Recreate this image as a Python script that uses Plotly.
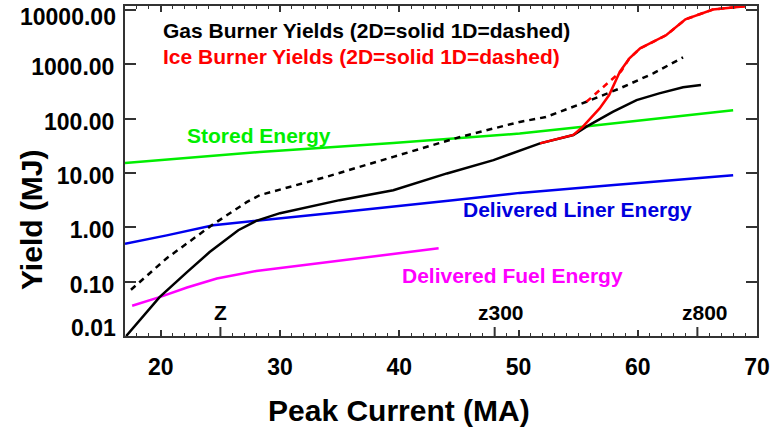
import numpy as np
import plotly.graph_objects as go

# Peak current (MA) and yields / energies (MJ)
gas_2d_x = [17.1, 19.9, 22.2, 24.1, 26.5, 28.0, 30.0, 35.0, 39.5, 44.0, 47.9, 50.1, 51.8, 54.6, 55.7, 57.9, 59.9, 61.8, 63.8, 65.3]
gas_2d_y = [0.01, 0.052, 0.15, 0.35, 0.885, 1.31, 1.82, 3.16, 4.8, 9.8, 17.2, 26, 35, 50, 71, 133, 219, 291, 376, 414]

gas_1d_x = [17.5, 20.5, 24.3, 27.2, 28.3, 33.9, 39.5, 45.1, 50.1, 52.3, 55.7, 58.5, 61.3, 63.8]
gas_1d_y = [0.071, 0.27, 1.1, 2.9, 3.9, 8.5, 19.8, 46, 87, 107, 204, 360, 680, 1340]

ice_2d_x = [51.8, 54.6, 55.4, 56.8, 57.6, 58.5, 59.3, 60.2, 62.4, 64.0, 66.3, 69.0]
ice_2d_y = [35, 50, 71, 154, 271, 728, 1285, 1960, 3450, 6700, 10200, 11700]

ice_1d_x = [55.7, 57.2, 58.6, 59.3, 60.2, 62.4, 64.0, 66.3, 69.0]
ice_1d_y = [204, 390, 740, 1285, 1960, 3450, 6700, 10200, 11700]

stored_x = [17.0, 28.3, 39.5, 50.1, 55.2, 60.0, 64.0, 68.0]
stored_y = [15.3, 24.3, 35.6, 53, 70, 91, 114, 142]

liner_x = [17.0, 20.5, 24.4, 28.0, 35.0, 44.5, 50.1, 58.0, 68.0]
liner_y = [0.50, 0.71, 1.09, 1.31, 1.9, 3.16, 4.3, 6.0, 9.1]

fuel_x = [17.6, 19.9, 22.2, 24.7, 28.0, 33.9, 38.5, 43.3]
fuel_y = [0.036, 0.052, 0.078, 0.114, 0.157, 0.23, 0.305, 0.41]

# Machine markers on the current axis
machine_x = [25, 48, 65]
machine_labels = ["Z", "z300", "z800"]
machine_label_x = [25.0, 48.5, 65.6]

y_tickvals = [0.01, 0.1, 1, 10, 100, 1000, 10000]
y_ticktext = ["%.2f" % v for v in y_tickvals]

FONT = "Liberation Sans, Arial, Helvetica, sans-serif"
AXC = "#333333"
TICKFONT = dict(family=FONT, size=23, color="black", weight="bold")

fig = go.Figure()

def add_line(x, y, color, dash="solid", width=2.5):
    fig.add_trace(go.Scatter(x=x, y=y, mode="lines",
                             line=dict(color=color, width=width, dash=dash),
                             showlegend=False, hoverinfo="skip"))

add_line(stored_x, stored_y, "#00ee00")
add_line(liner_x, liner_y, "#0000ee")
add_line(fuel_x, fuel_y, "#ff00ff")
add_line(gas_1d_x, gas_1d_y, "black", dash="6px,5px")
add_line(gas_2d_x, gas_2d_y, "black")
add_line(ice_1d_x, ice_1d_y, "#ff0000", dash="6px,5px")
add_line(ice_2d_x, ice_2d_y, "#ff0000")

def label(text, x, y, color, size=21, xanchor="left"):
    fig.add_annotation(x=x, y=np.log10(y), text=text, showarrow=False,
                       xanchor=xanchor, yanchor="middle",
                       font=dict(family=FONT, size=size, color=color, weight="bold"))

label("Gas Burner Yields (2D=solid 1D=dashed)", 20.0, 10 ** 3.62, "black")
label("Ice Burner Yields (2D=solid 1D=dashed)", 20.0, 10 ** 3.14, "#ff0000")
label("Stored Energy", 22.0, 10 ** 1.69, "#00ee00")
label("Delivered Liner Energy", 45.15, 10 ** 0.32, "#0000dd")
label("Delivered Fuel Energy", 40.06, 10 ** -0.88, "#ff00ff")
for lx, txt in zip(machine_label_x, machine_labels):
    label(txt, lx, 10 ** -1.57, "black", xanchor="center")

# Taller ticks marking the machines
for mx in machine_x:
    fig.add_shape(type="line", xref="x", yref="paper", x0=mx, x1=mx,
                  ysizemode="pixel", yanchor=0, y0=0, y1=9,
                  line=dict(color=AXC, width=2))

# End labels of the yield axis are nudged inward so they stay inside the frame
axis_ticktext = [t if i not in (0, len(y_ticktext) - 1) else "" for i, t in enumerate(y_ticktext)]
fig.add_annotation(xref="paper", yref="paper", x=-0.0115, y=0.0242,
                   text=y_ticktext[0], showarrow=False, xanchor="right",
                   yanchor="middle", font=TICKFONT)
fig.add_annotation(xref="paper", yref="paper", x=-0.0115, y=0.9676,
                   text=y_ticktext[-1], showarrow=False, xanchor="right",
                   yanchor="middle", font=TICKFONT)

# Axis titles
fig.add_annotation(xref="paper", yref="paper", x=0.4335, y=-0.2264,
                   text="Peak Current (MA)", showarrow=False,
                   xanchor="center", yanchor="middle",
                   font=dict(family=FONT, size=30, color="black", weight="bold"))
fig.add_annotation(xref="paper", yref="paper", x=-0.1487, y=0.3515,
                   text="Yield (MJ)", showarrow=False, textangle=-90,
                   xanchor="center", yanchor="middle",
                   font=dict(family=FONT, size=30, color="black", weight="bold"))

fig.update_xaxes(range=[17, 70], tick0=0, dtick=10, ticks="inside", ticklen=6,
                 tickwidth=1.5, tickcolor=AXC, showline=True, linewidth=2,
                 linecolor=AXC, mirror="ticks", showgrid=False, zeroline=False,
                 tickfont=TICKFONT,
                 ticklabelstandoff=9, ticklabeloverflow="allow", automargin=False,
                 minor=dict(dtick=1, ticks="inside", ticklen=3, tickwidth=1.2,
                            tickcolor=AXC, showgrid=False))
fig.update_yaxes(type="log", range=[-2, 4.072], tickvals=y_tickvals,
                 ticktext=axis_ticktext, ticks="inside", ticklen=11, tickwidth=1.5,
                 tickcolor=AXC, showline=True, linewidth=2, linecolor=AXC,
                 mirror="ticks", showgrid=False, zeroline=False,
                 tickfont=TICKFONT,
                 ticklabelstandoff=4, ticklabelshift=3,
                 ticklabeloverflow="allow", automargin=False)

fig.update_layout(width=782, height=428, margin=dict(l=125, r=25, t=6, b=92),
                  plot_bgcolor="white", paper_bgcolor="white",
                  font=dict(family=FONT))

fig.write_html("out.html")
